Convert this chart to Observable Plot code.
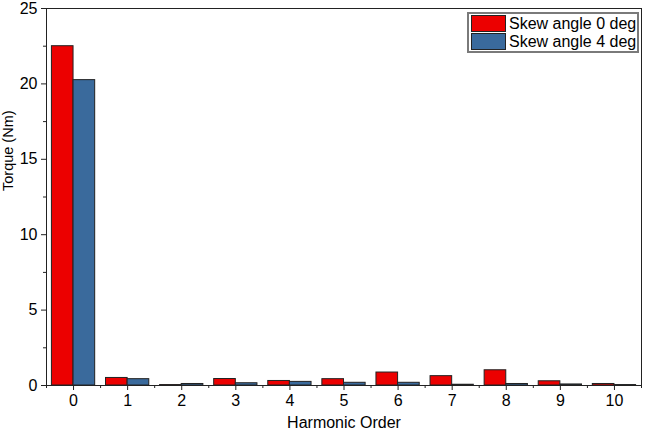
<!DOCTYPE html>
<html>
<head>
<meta charset="utf-8">
<script src="https://cdn.jsdelivr.net/npm/d3@7"></script>
<script src="https://cdn.jsdelivr.net/npm/@observablehq/plot@0.6"></script>
<style>
  body { margin: 0; background: #fff; }
  #wrap { position: relative; width: 646px; height: 434px; font-family: "Liberation Sans", Arial, sans-serif; }
  #legend { position: absolute; left: 467px; top: 12px; width: 168px; height: 37px; border: 2px solid #7a7a7a; background: #fff; }
  .row { position: absolute; left: 2px; height: 17px; display: flex; align-items: center; font-size: 16px; color: #000; white-space: nowrap; }
  .sw { width: 33px; height: 15px; border: 1px solid #222; margin-right: 3px; }
</style>
</head>
<body>
<div id="wrap"></div>
<script>
const orders = [0, 1, 2, 3, 4, 5, 6, 7, 8, 9, 10];
const skew0 = [22.5, 0.5, 0.03, 0.43, 0.3, 0.42, 0.86, 0.62, 1.01, 0.28, 0.1];
const skew4 = [20.25, 0.42, 0.1, 0.15, 0.24, 0.18, 0.18, 0.05, 0.1, 0.07, 0.03];
const seriesNames = ["Skew angle 0 deg", "Skew angle 4 deg"];
const seriesColors = ["#ec0000", "#3a6a9c"];
const yTicks = [0, 5, 10, 15, 20, 25];

const rows = [];
orders.forEach((o, i) => {
  rows.push({order: o, value: skew0[i], series: seriesNames[0], k: 0});
  rows.push({order: o, value: skew4[i], series: seriesNames[1], k: 1});
});
const halfTicks = orders.concat([orders.length]).map(o => o - 0.5);
const yMinor = yTicks.slice(0, -1).map(v => v + 2.5);
const barW = 0.4;

const chart = Plot.plot({
  width: 646,
  height: 434,
  marginLeft: 46,
  marginRight: 5,
  marginTop: 8,
  marginBottom: 49,
  style: {fontFamily: "'Liberation Sans', Arial, sans-serif", fontSize: "16px", color: "#000", background: "#fff", overflow: "visible"},
  x: {domain: [-0.5, 10.5], axis: null},
  y: {domain: [0, 25], axis: null},
  color: {domain: seriesNames, range: seriesColors},
  marks: [
    Plot.rect(rows, {
      x1: d => d.order - barW + d.k * barW,
      x2: d => d.order + d.k * barW,
      y1: 0,
      y2: "value",
      fill: "series",
      stroke: "#222",
      strokeWidth: 1
    }),
    Plot.frame({stroke: "#222", strokeWidth: 1}),
    Plot.axisX({ticks: orders, tickSize: 5, tickPadding: 4, tickFormat: d => d, fontSize: 16, stroke: "#222"}),
    Plot.axisX({ticks: halfTicks, tickSize: 3, tickFormat: () => "", stroke: "#222"}),
    Plot.axisY({ticks: yTicks, tickSize: 5, tickPadding: 4, fontSize: 16, stroke: "#222", label: null}),
    Plot.axisY({ticks: yMinor, tickSize: 3, tickFormat: () => "", stroke: "#222", label: null}),
    Plot.text(["Torque (Nm)"], {frameAnchor: "left", dx: -38, dy: -6, rotate: -90, fontSize: 14.5, fill: "#000"}),
    Plot.text(["Harmonic Order"], {frameAnchor: "bottom", dy: 42, fontSize: 16, fill: "#000"})
  ]
});

const wrap = document.getElementById("wrap");
wrap.appendChild(chart);

const legend = document.createElement("div");
legend.id = "legend";
seriesNames.forEach((name, i) => {
  const row = document.createElement("div");
  row.className = "row";
  row.style.top = (1 + i * 18) + "px";
  const sw = document.createElement("div");
  sw.className = "sw";
  sw.style.background = seriesColors[i];
  const t = document.createElement("span");
  t.textContent = name;
  row.appendChild(sw);
  row.appendChild(t);
  legend.appendChild(row);
});
wrap.appendChild(legend);
</script>
</body>
</html>
